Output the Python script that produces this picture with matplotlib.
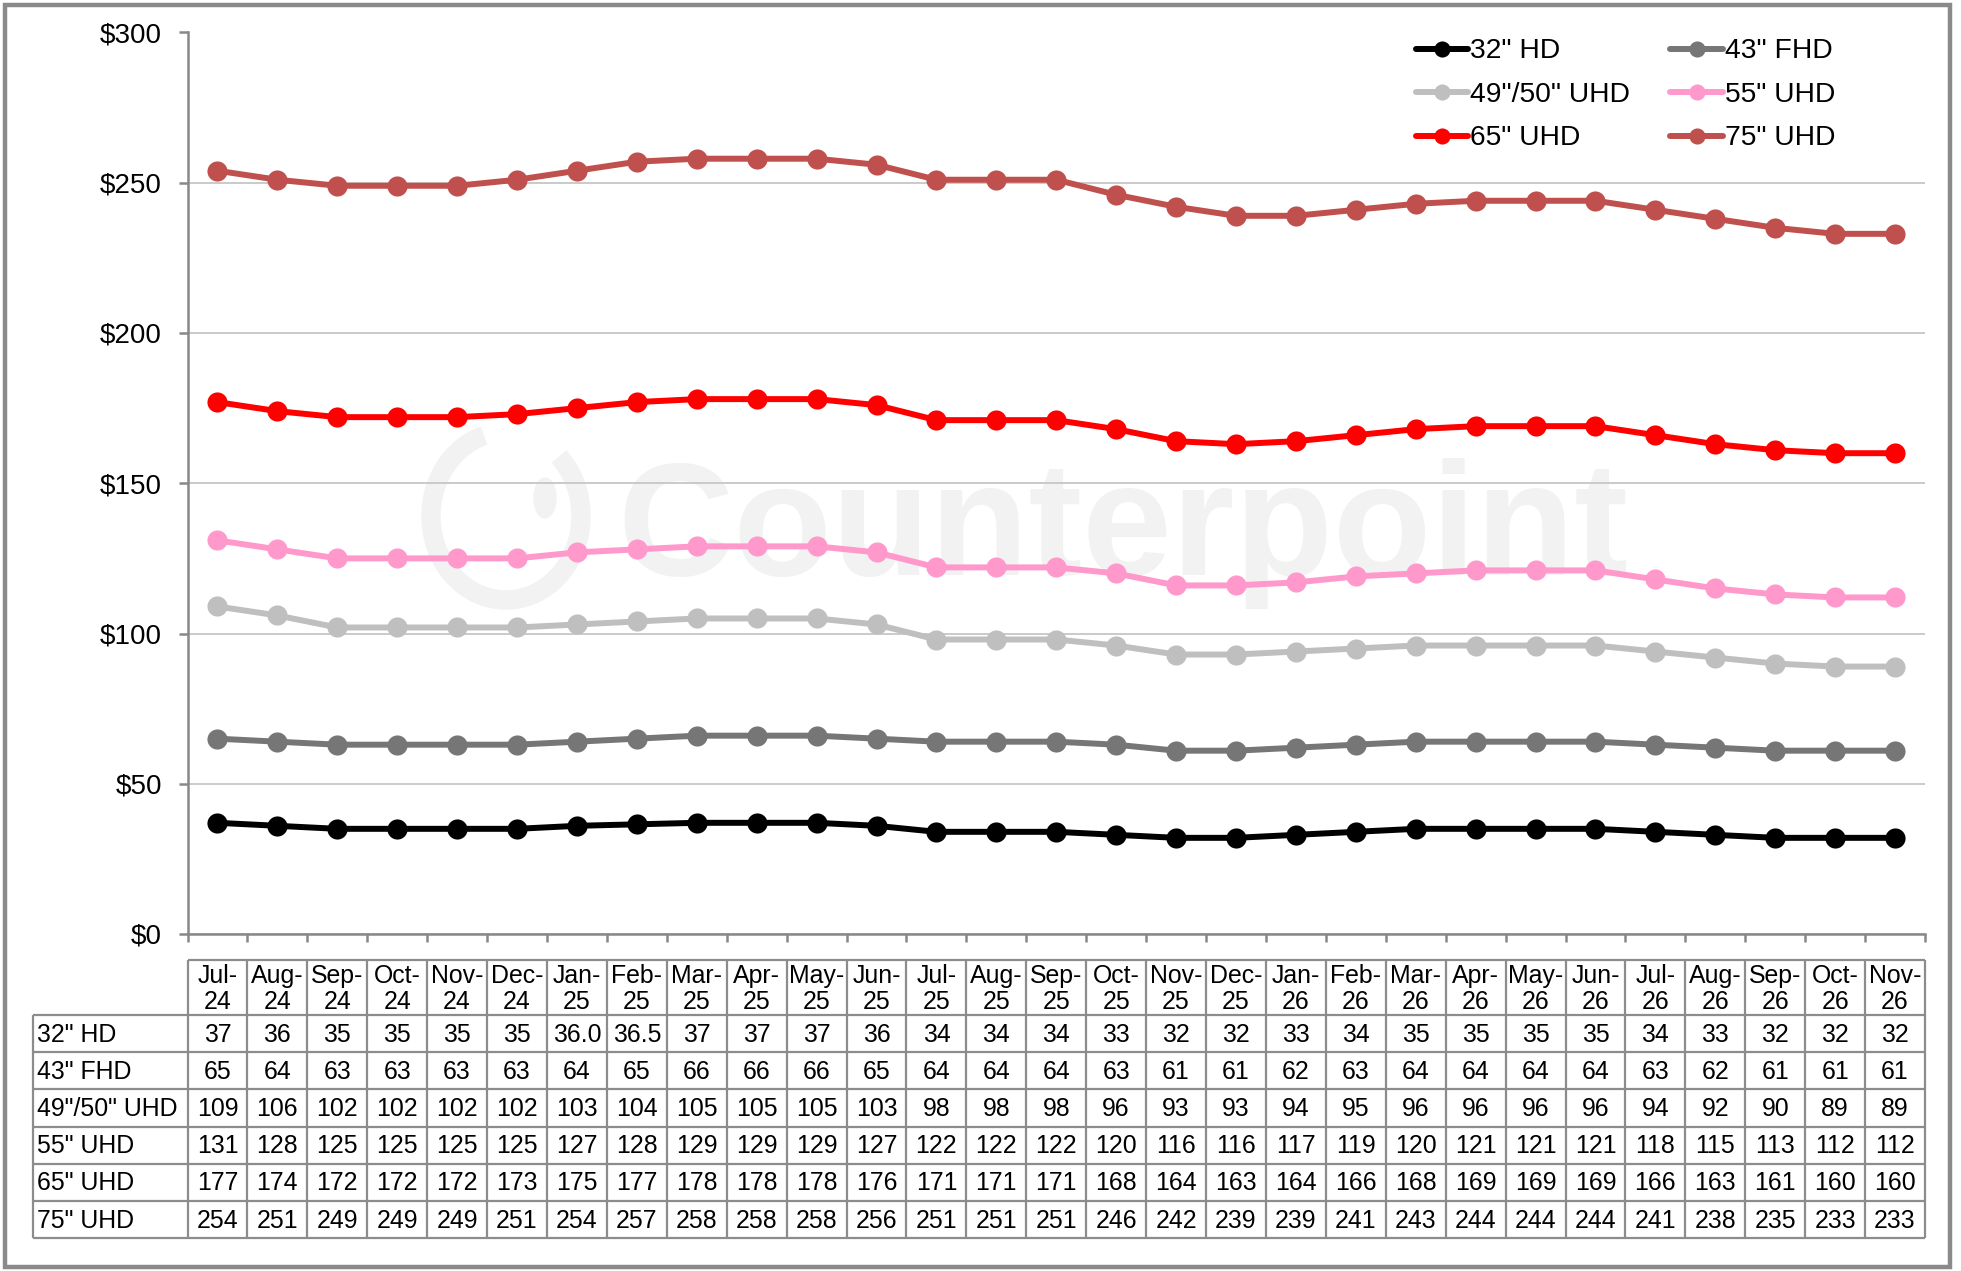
import matplotlib
matplotlib.use("Agg")
import matplotlib.pyplot as plt
from matplotlib.patches import Rectangle, Arc, Ellipse

# ---------------- data ----------------
months = ["Jul-24", "Aug-24", "Sep-24", "Oct-24", "Nov-24", "Dec-24",
          "Jan-25", "Feb-25", "Mar-25", "Apr-25", "May-25", "Jun-25",
          "Jul-25", "Aug-25", "Sep-25", "Oct-25", "Nov-25", "Dec-25",
          "Jan-26", "Feb-26", "Mar-26", "Apr-26", "May-26", "Jun-26",
          "Jul-26", "Aug-26", "Sep-26", "Oct-26", "Nov-26"]

series_names = ['32" HD', '43" FHD', '49"/50" UHD', '55" UHD', '65" UHD', '75" UHD']

hd32 = [37, 36, 35, 35, 35, 35, 36.0, 36.5, 37, 37, 37, 36, 34, 34, 34, 33, 32, 32,
        33, 34, 35, 35, 35, 35, 34, 33, 32, 32, 32]
hd32_labels = ["37", "36", "35", "35", "35", "35", "36.0", "36.5", "37", "37", "37", "36",
               "34", "34", "34", "33", "32", "32", "33", "34", "35", "35", "35", "35",
               "34", "33", "32", "32", "32"]
fhd43 = [65, 64, 63, 63, 63, 63, 64, 65, 66, 66, 66, 65, 64, 64, 64, 63, 61, 61,
         62, 63, 64, 64, 64, 64, 63, 62, 61, 61, 61]
uhd50 = [109, 106, 102, 102, 102, 102, 103, 104, 105, 105, 105, 103, 98, 98, 98, 96, 93, 93,
         94, 95, 96, 96, 96, 96, 94, 92, 90, 89, 89]
uhd55 = [131, 128, 125, 125, 125, 125, 127, 128, 129, 129, 129, 127, 122, 122, 122, 120, 116, 116,
         117, 119, 120, 121, 121, 121, 118, 115, 113, 112, 112]
uhd65 = [177, 174, 172, 172, 172, 173, 175, 177, 178, 178, 178, 176, 171, 171, 171, 168, 164, 163,
         164, 166, 168, 169, 169, 169, 166, 163, 161, 160, 160]
uhd75 = [254, 251, 249, 249, 249, 251, 254, 257, 258, 258, 258, 256, 251, 251, 251, 246, 242, 239,
         239, 241, 243, 244, 244, 244, 241, 238, 235, 233, 233]

y_ticks = [0, 50, 100, 150, 200, 250, 300]
y_tick_labels = ["$0", "$50", "$100", "$150", "$200", "$250", "$300"]

series_values = [hd32, fhd43, uhd50, uhd55, uhd65, uhd75]
series_labels = [hd32_labels] + [[str(v) for v in s] for s in series_values[1:]]
series_colors = ["#000000", "#767676", "#BFBFBF", "#FF99CC", "#FF0000", "#C0504D"]

n = len(hd32)

# ---------------- figure ----------------
W, H = 1961, 1271
plt.rcParams['font.family'] = ['Liberation Sans', 'DejaVu Sans']
fig = plt.figure(figsize=(W / 100, H / 100), dpi=100)

ax_left_px, ax_right_px = 187.5, 1925
ax_top_px, ax_bot_px = 32.5, 934
ax = fig.add_axes([ax_left_px / W, 1 - ax_bot_px / H,
                   (ax_right_px - ax_left_px) / W, (ax_bot_px - ax_top_px) / H])

grid_c = "#C6C6C6"
axis_c = "#888888"
wm_c = "#F2F2F2"

# watermark (behind gridlines and lines)
ax.text(1123 / W, 1 - 575 / H, "Counterpoint", fontsize=116, fontweight="bold",
        color=wm_c, ha="center", va="baseline", zorder=0.1,
        transform=fig.transFigure)
ax.add_patch(Arc((506 / W, 1 - 516 / H), 150 / W, 168 / H, theta1=100, theta2=420,
                 transform=fig.transFigure, lw=14, color=wm_c, zorder=0.1, clip_on=False))
ax.add_patch(Ellipse((545 / W, 1 - 498 / H), 22 / W, 40 / H,
                     transform=fig.transFigure, color=wm_c, zorder=0.1, clip_on=False))

x = list(range(n))
handles = []
for vals, name, col in zip(series_values, series_names, series_colors):
    h, = ax.plot(x, vals, color=col, lw=4.3, marker="o", markersize=14.5,
                 markeredgewidth=0, solid_joinstyle="round", solid_capstyle="round",
                 label=name, zorder=3, clip_on=False)
    handles.append(h)

ax.set_xlim(-0.5, n - 0.5)
ax.set_ylim(0, 300)
ax.set_yticks(y_ticks)
ax.set_yticklabels(y_tick_labels)
ax.set_xticks([i - 0.5 for i in range(n + 1)])
ax.set_xticklabels([])
ax.yaxis.grid(True, color=grid_c, lw=1.3)
ax.set_axisbelow(True)
for s in ["top", "right"]:
    ax.spines[s].set_visible(False)
for s in ["left", "bottom"]:
    ax.spines[s].set_color(axis_c)
    ax.spines[s].set_linewidth(1.8)
ax.tick_params(axis="y", direction="out", length=6.5, width=1.8, color=axis_c,
               pad=12, labelsize=20)
ax.tick_params(axis="x", direction="out", length=6, width=1.8, color=axis_c)

# legend (row-wise order: col1 = 32, 49/50, 65 ; col2 = 43, 55, 75)
order = [0, 2, 4, 1, 3, 5]
fig.legend([handles[i] for i in order], [series_names[i] for i in order],
           loc="upper left", bbox_to_anchor=(1416 / W, 1 - 38.5 / H),
           bbox_transform=fig.transFigure, ncol=2, frameon=False,
           fontsize=20.3, handlelength=1.85, handletextpad=0.08,
           labelspacing=0.62, columnspacing=1.42, borderpad=0, borderaxespad=0,
           markerscale=0.8)

# ---------------- data table ----------------
col_w_px = (ax_right_px - ax_left_px) / n
lab_left_px = 33.5
LW = (ax_left_px - lab_left_px) / col_w_px  # label column width in column units
tab_top_px, hdr_h, row_h = 960, 55, 37.2
tab_h = hdr_h + row_h * len(series_names)
tax = fig.add_axes([lab_left_px / W, 1 - (tab_top_px + tab_h) / H,
                    (ax_right_px - lab_left_px) / W, tab_h / H])
tax.set_xlim(-0.5 - LW, n - 0.5)
tax.set_ylim(tab_h, 0)
tax.axis("off")

line_c = "#8C8C8C"
lw_t = 1.6
x0, x1 = -0.5 - LW, n - 0.5
tax.hlines(0, -0.5, x1, color=line_c, lw=lw_t, clip_on=False)
tax.vlines([i - 0.5 for i in range(n + 1)], 0, tab_h, color=line_c, lw=lw_t, clip_on=False)
tax.vlines([x0], hdr_h, tab_h, color=line_c, lw=lw_t, clip_on=False)
row_ys = [hdr_h + k * row_h for k in range(len(series_names) + 1)]
tax.hlines(row_ys, x0, x1, color=line_c, lw=lw_t, clip_on=False)

tfs = 17.9
for i, m in enumerate(months):
    mon, yr = m.split("-")
    tax.text(i, hdr_h / 2 + 1.5, f"{mon}-\n{yr}", ha="center", va="center",
             fontsize=tfs, linespacing=1.15)
for r, (name, labs) in enumerate(zip(series_names, series_labels)):
    yc = hdr_h + (r + 0.5) * row_h + 1
    tax.text(x0 + 0.06, yc, name, ha="left", va="center", fontsize=tfs)
    for i, t in enumerate(labs):
        tax.text(i, yc, t, ha="center", va="center", fontsize=tfs)

# outer frame
fig.patches.append(Rectangle((4.5 / W, 4.5 / H), (1950 - 4.5) / W, (1266 - 4.5) / H,
                             transform=fig.transFigure, fill=False,
                             edgecolor="#8A8A8A", lw=3.2, zorder=10))

fig.savefig("out.png", dpi=100)
